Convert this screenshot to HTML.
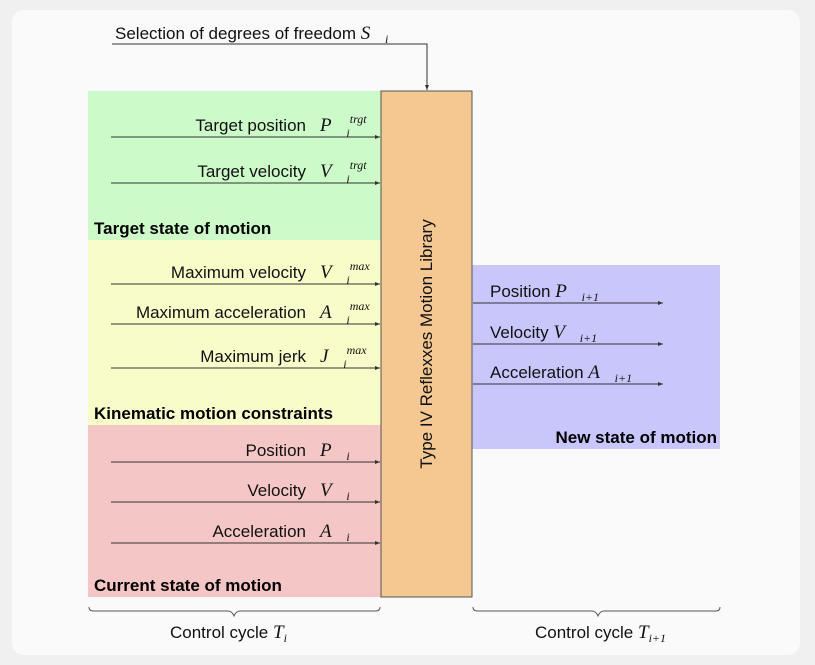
<!DOCTYPE html>
<html><head><style>
body{margin:0;background:#f0f0f0;}
svg{display:block;font-family:"Liberation Sans",sans-serif;}
.m{font-family:"Liberation Serif",serif;font-style:italic;}
</style></head><body>
<svg width="815" height="665" viewBox="0 0 815 665" xmlns="http://www.w3.org/2000/svg">
<defs><marker id="a" markerWidth="6" markerHeight="6" refX="5" refY="3" orient="auto"><path d="M0,1 L5,3 L0,5 z" fill="#333"/></marker></defs>
<rect x="0" y="0" width="815" height="665" fill="#f0f0f0"/>
<rect x="12" y="10" width="788" height="645" rx="12" fill="#fafafa"/>
<rect x="88" y="91" width="293" height="149" fill="#ccfac8"/>
<rect x="88" y="240" width="293" height="185" fill="#f8fcc8"/>
<rect x="88" y="425" width="293" height="172" fill="#f5c6c6"/>
<rect x="472" y="265" width="248" height="184" fill="#c9c6fc"/>
<rect x="381" y="91" width="91" height="506" fill="#f4c890" stroke="#555" stroke-width="1"/>
<text transform="translate(432,344) rotate(-90)" text-anchor="middle" font-size="17" fill="#111">Type IV Reflexxes Motion Library</text>
<g stroke="#333" stroke-width="1" fill="none">
<polyline points="112,44 427,44 427,90" marker-end="url(#a)"/>
<line x1="111" y1="137" x2="380" y2="137" marker-end="url(#a)"/>
<line x1="111" y1="183" x2="380" y2="183" marker-end="url(#a)"/>
<line x1="111" y1="284" x2="380" y2="284" marker-end="url(#a)"/>
<line x1="111" y1="324" x2="380" y2="324" marker-end="url(#a)"/>
<line x1="111" y1="368" x2="380" y2="368" marker-end="url(#a)"/>
<line x1="111" y1="462" x2="380" y2="462" marker-end="url(#a)"/>
<line x1="111" y1="502" x2="380" y2="502" marker-end="url(#a)"/>
<line x1="111" y1="543" x2="380" y2="543" marker-end="url(#a)"/>
<line x1="473" y1="303" x2="663" y2="303" marker-end="url(#a)"/>
<line x1="473" y1="344" x2="663" y2="344" marker-end="url(#a)"/>
<line x1="473" y1="384" x2="663" y2="384" marker-end="url(#a)"/>
<path d="M89,607 q0,4 4,4 h135 q4,0 6,5 q2,-5 6,-5 h136 q4,0 4,-4" stroke="#555"/>
<path d="M473,607 q0,4 4,4 h115 q4,0 6,5 q2,-5 6,-5 h112 q4,0 4,-4" stroke="#555"/>
</g>
<g font-size="17" fill="#111">
<text x="115" y="39">Selection of degrees of freedom <tspan class="m" font-size="19">S⃗</tspan><tspan class="m" font-size="12" dy="4">i</tspan></text>
<text x="306" y="131" text-anchor="end">Target position</text>
<text x="320" y="131" class="m" font-size="19">P⃗<tspan font-size="12" dy="6">i</tspan><tspan font-size="12" dy="-14">trgt</tspan></text>
<text x="306" y="177" text-anchor="end">Target velocity</text>
<text x="320" y="177" class="m" font-size="19">V⃗<tspan font-size="12" dy="6">i</tspan><tspan font-size="12" dy="-14">trgt</tspan></text>
<text x="306" y="278" text-anchor="end">Maximum velocity</text>
<text x="320" y="278" class="m" font-size="19">V⃗<tspan font-size="12" dy="6">i</tspan><tspan font-size="12" dy="-14">max</tspan></text>
<text x="306" y="318" text-anchor="end">Maximum acceleration</text>
<text x="320" y="318" class="m" font-size="19">A⃗<tspan font-size="12" dy="6">i</tspan><tspan font-size="12" dy="-14">max</tspan></text>
<text x="306" y="362" text-anchor="end">Maximum jerk</text>
<text x="320" y="362" class="m" font-size="19">J⃗<tspan font-size="12" dy="6">i</tspan><tspan font-size="12" dy="-14">max</tspan></text>
<text x="306" y="456" text-anchor="end">Position</text>
<text x="320" y="456" class="m" font-size="19">P⃗<tspan font-size="12" dy="4">i</tspan></text>
<text x="306" y="496" text-anchor="end">Velocity</text>
<text x="320" y="496" class="m" font-size="19">V⃗<tspan font-size="12" dy="4">i</tspan></text>
<text x="306" y="537" text-anchor="end">Acceleration</text>
<text x="320" y="537" class="m" font-size="19">A⃗<tspan font-size="12" dy="4">i</tspan></text>
<text x="490" y="297">Position <tspan class="m" font-size="19">P⃗</tspan><tspan class="m" font-size="12" dy="4">i+1</tspan></text>
<text x="490" y="338">Velocity <tspan class="m" font-size="19">V⃗</tspan><tspan class="m" font-size="12" dy="4">i+1</tspan></text>
<text x="490" y="378">Acceleration <tspan class="m" font-size="19">A⃗</tspan><tspan class="m" font-size="12" dy="4">i+1</tspan></text>
<text x="170" y="638">Control cycle <tspan class="m" font-size="19">T</tspan><tspan class="m" font-size="12" dy="4">i</tspan></text>
<text x="535" y="638">Control cycle <tspan class="m" font-size="19">T</tspan><tspan class="m" font-size="12" dy="4">i+1</tspan></text>
</g>
<g font-size="17" font-weight="bold" fill="#000">
<text x="94" y="234">Target state of motion</text>
<text x="94" y="419">Kinematic motion constraints</text>
<text x="94" y="591">Current state of motion</text>
<text x="717" y="443" text-anchor="end">New state of motion</text>
</g>
</svg>
</body></html>
